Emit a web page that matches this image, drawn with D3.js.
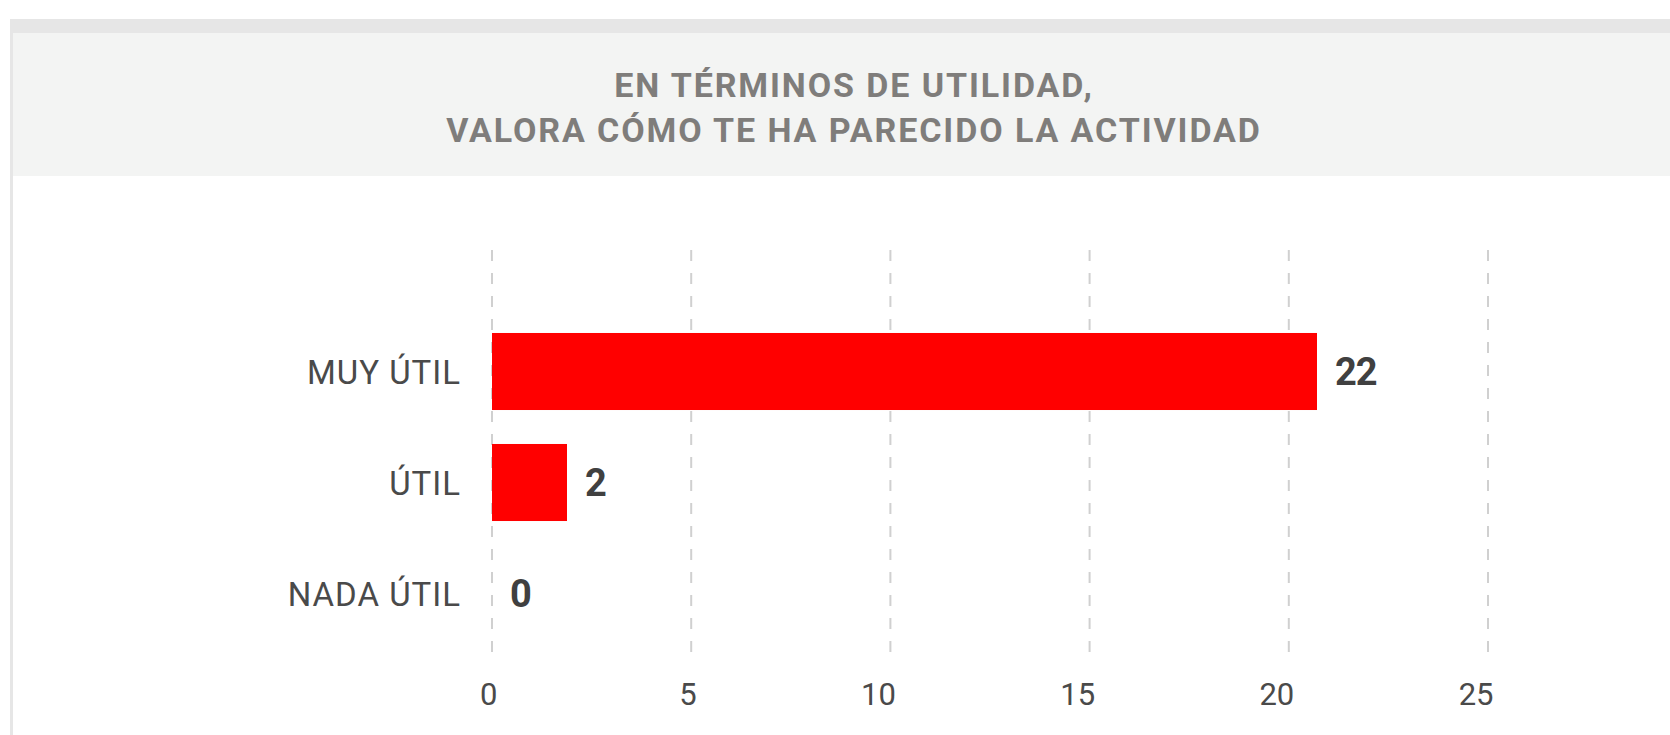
<!DOCTYPE html>
<head>
    <meta charset="utf-8">
    <title>Utilidad de la actividad</title>
    <style>
        body { margin: 0; background: #fff; }
        svg { display: block; }
        text { font-family: Roboto, "Noto Sans", sans-serif; }
    </style>
</head>
<body>

<svg width="1670" height="735"></svg>

<script src="https://d3js.org/d3.v7.min.js"></script>

<script>

    // Data
    const titleLines = ["EN TÉRMINOS DE UTILIDAD,", "VALORA CÓMO TE HA PARECIDO LA ACTIVIDAD"];
    const categories = ["MUY ÚTIL", "ÚTIL", "NADA ÚTIL"];
    const values = [22, 2, 0];
    const tickValues = [0, 5, 10, 15, 20, 25];

    const svg = d3.select("svg");
    const width = +svg.attr("width");
    const height = +svg.attr("height");

    // Card frame: grey top strip, thin left border, light header band
    svg.append("rect").attr("x", 10).attr("y", 19).attr("width", width - 10).attr("height", 14).attr("fill", "#e6e6e6");
    svg.append("rect").attr("x", 10).attr("y", 19).attr("width", 3).attr("height", height - 19).attr("fill", "#e6e6e6");
    svg.append("rect").attr("x", 13).attr("y", 33).attr("width", width - 13).attr("height", 143).attr("fill", "#f3f4f3");

    svg.append("g")
        .selectAll("text")
        .data(titleLines)
        .enter().append("text")
            .attr("x", 854)
            .attr("y", function(d, i) { return 97 + i * 45; })
            .attr("text-anchor", "middle")
            .attr("fill", "#7f7d7b")
            .attr("font-weight", 700)
            .attr("font-size", 34)
            .attr("letter-spacing", 1.9)
            .text(function(d) { return d; });

    const gridTop = 250;
    const gridBottom = 660;

    const x = d3.scaleLinear()
        .domain([0, 25])
        .range([492, 1488]);

    // The original draws its bars on a slightly shorter scale than its grid
    const xBar = d3.scaleLinear()
        .domain([0, 25])
        .range([492, 492 + 25 * 37.5]);

    const y = d3.scaleBand()
        .domain(categories)
        .range([316, 649])
        .paddingInner(0.306)
        .paddingOuter(0.306 / 2);

    // Dashed vertical grid
    svg.append("g")
        .selectAll("line")
        .data(tickValues)
        .enter().append("line")
            .attr("x1", function(d) { return x(d); })
            .attr("x2", function(d) { return x(d); })
            .attr("y1", gridTop)
            .attr("y2", gridBottom)
            .attr("stroke", "#d0d0d0")
            .attr("stroke-width", 2)
            .attr("stroke-dasharray", "11,12");

    // Bottom tick labels
    const axis = svg.append("g")
        .attr("transform", "translate(0," + gridBottom + ")")
        .call(d3.axisBottom(x).tickValues(tickValues).tickSize(0).tickPadding(23));
    axis.select(".domain").remove();
    axis.selectAll("text")
        .attr("text-anchor", "end")
        .attr("dx", 5)
        .attr("font-family", "Roboto, sans-serif")
        .attr("font-size", 31)
        .attr("fill", "#4a4a4a");

    const rows = svg.append("g")
        .selectAll("g")
        .data(categories)
        .enter().append("g");

    rows.append("rect")
        .attr("x", xBar(0))
        .attr("y", function(d) { return y(d); })
        .attr("width", function(d, i) { return xBar(values[i]) - xBar(0); })
        .attr("height", y.bandwidth())
        .attr("fill", "#ff0000");

    rows.append("text")
        .attr("x", 461)
        .attr("y", function(d) { return y(d) + y.bandwidth() / 2 + 12; })
        .attr("text-anchor", "end")
        .attr("fill", "#4a4a4a")
        .attr("font-size", 33)
        .attr("letter-spacing", 1)
        .text(function(d) { return d; });

    rows.append("text")
        .attr("x", function(d, i) { return xBar(values[i]) + 18; })
        .attr("y", function(d) { return y(d) + y.bandwidth() / 2 + 13; })
        .attr("fill", "#404040")
        .attr("font-weight", 700)
        .attr("font-size", 38)
        .attr("letter-spacing", -1)
        .text(function(d, i) { return values[i]; });

</script>

</body>
